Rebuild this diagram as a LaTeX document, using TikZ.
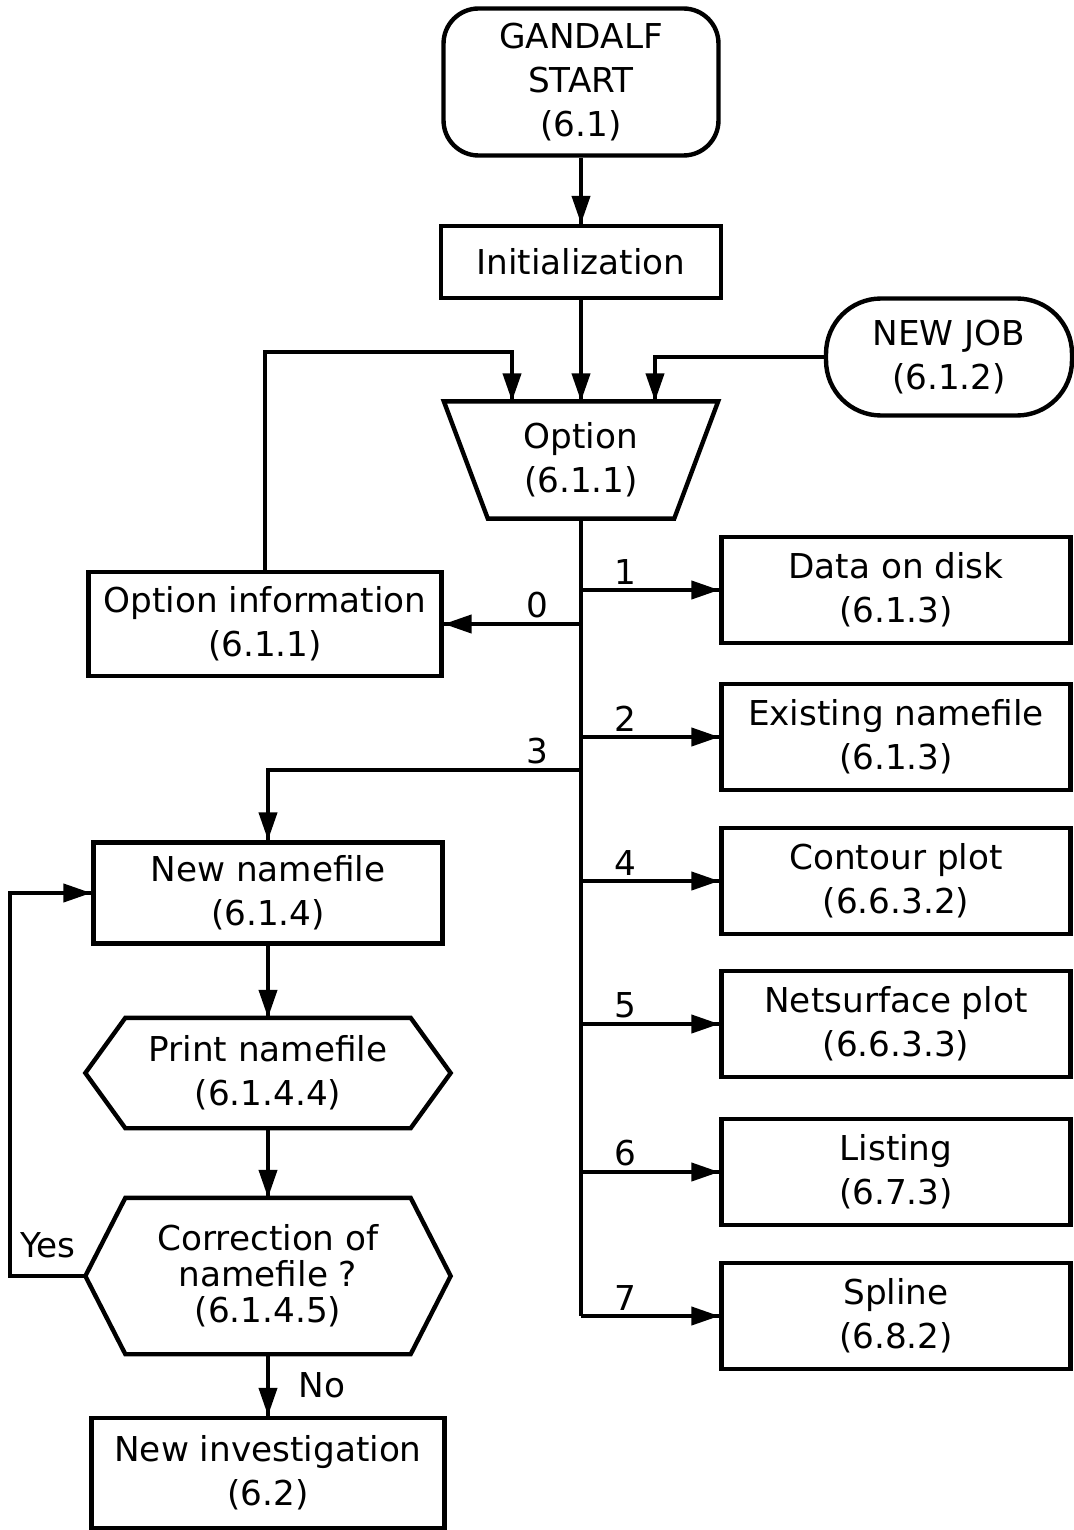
\documentclass[tikz,border=0pt]{standalone}
\usepackage{fontspec}
\setmainfont{DejaVu Sans}
\usetikzlibrary{arrows.meta}
\usetikzlibrary{decorations.markings}
\usetikzlibrary{positioning}
\tikzset{->/.style = {decoration={markings,
                                  mark=at position 1 with {\arrow{Triangle[length=0.56cm, width=0.36cm]}}},
                      postaction={decorate}}}
\tikzset{box/.style = {draw, line width=2.5pt, inner sep=0, align=center,
                       font=\fontsize{19.5}{25}\selectfont}}
\tikzset{rightbox/.style = {box, minimum width=6.98cm, minimum height=2.12cm}}
\tikzset{lbl/.style = {font=\fontsize{19.5}{25}\selectfont, inner sep=2pt}}

\begin{document}
\begin{tikzpicture}[x=0.02cm, y=-0.02cm, line width=2.3pt]
      \useasboundingbox (0, 0) rectangle (1073, 1530);

      \node [box, rounded corners=0.7cm, minimum width=5.5cm, minimum height=2.94cm] (start) at (581, 82) {GANDALF\\START\\(6.1)};
      \node [box, minimum width=5.6cm, minimum height=1.44cm] (init) at (581, 262) {Initialization};
      \node [box, draw=none, minimum width=5.4cm, minimum height=2.26cm] (option) at (581, 460) {Option\\(6.1.1)};
      \node [box, rounded corners=1.1cm, minimum width=4.92cm, minimum height=2.34cm] (newjob) at (949, 357) {NEW JOB\\(6.1.2)};
      \node [box, minimum width=7.06cm, minimum height=2.08cm] (optinfo) at (265, 624) {Option information\\(6.1.1)};

      \node [rightbox] (disk) at (896, 590) {Data on disk\\(6.1.3)};
      \node [rightbox] (exist) at (896, 737) {Existing namefile\\(6.1.3)};
      \node [rightbox] (contour) at (896, 881) {Contour plot\\(6.6.3.2)};
      \node [rightbox] (netsurf) at (896, 1024) {Netsurface plot\\(6.6.3.3)};
      \node [rightbox] (listing) at (896, 1172) {Listing\\(6.7.3)};
      \node [rightbox] (spline) at (896, 1316) {Spline\\(6.8.2)};

      \node [box, minimum width=6.98cm, minimum height=2.02cm] (newname) at (268, 893) {New namefile\\(6.1.4)};
      \node [box, draw=none, minimum width=7.22cm, minimum height=2.12cm] (print) at (268, 1073) {Print namefile\\(6.1.4.4)};
      \node [box, draw=none, minimum width=7.22cm, minimum height=3.04cm,
             font=\fontsize{19.5}{20.5}\selectfont] (correct) at (268, 1276) {Correction of\\namefile ?\\(6.1.4.5)};
      \node [box, minimum width=7.06cm, minimum height=2.2cm] (newinv) at (268, 1473) {New investigation\\(6.2)};

      % trapezoid and hexagons
      \draw [line width=2.5pt] (option.north west) -- (option.north east)
            -- ([xshift=-0.88cm]option.south east) -- ([xshift=0.88cm]option.south west) -- cycle;
      \foreach \n in {print, correct}
        \draw [line width=2.5pt] ([xshift=0.8cm]\n.north west) -- ([xshift=-0.8cm]\n.north east)
              -- (\n.east) -- ([xshift=-0.8cm]\n.south east)
              -- ([xshift=0.8cm]\n.south west) -- (\n.west) -- cycle;

      \coordinate (infobend) at (512, 352);
      \coordinate (jobbend) at (655, 357);
      \coordinate (split3) at (581, 770);
      \coordinate (yesbend) at (10, 1276);

      \draw [->] (start.south) -- (init.north);
      \draw [->] (init.south) -- (option.north);
      \draw [->] (optinfo.north) |- (infobend) -- (infobend |- option.north);
      \draw [->] (newjob.west) -- (jobbend) -- (jobbend |- option.north);

      \draw (option.south) -- (option.south |- spline.west);
      \draw [->] (option.south |- optinfo.east) -- node [lbl, pos=0.32, above] {0} (optinfo.east);
      \draw [->] (option.south |- disk.west) -- node [lbl, pos=0.32, above] {1} (disk.west);
      \draw [->] (option.south |- exist.west) -- node [lbl, pos=0.32, above] {2} (exist.west);
      \draw [->] (split3) -| node [lbl, pos=0.07, above] {3} (newname.north);
      \draw [->] (option.south |- contour.west) -- node [lbl, pos=0.32, above] {4} (contour.west);
      \draw [->] (option.south |- netsurf.west) -- node [lbl, pos=0.32, above] {5} (netsurf.west);
      \draw [->] (option.south |- listing.west) -- node [lbl, pos=0.32, above] {6} (listing.west);
      \draw [->] (option.south |- spline.west) -- node [lbl, pos=0.32, above] {7} (spline.west);

      \draw [->] (newname.south) -- (print.north);
      \draw [->] (print.south) -- (correct.north);
      \draw [->] (correct.west) -- node [lbl, above=0.25cm] {Yes} (yesbend) |- (newname.west);
      \draw [->] (correct.south) -- node [lbl, right=0.5cm] {No} (newinv.north);
    \end{tikzpicture}
\end{document}
